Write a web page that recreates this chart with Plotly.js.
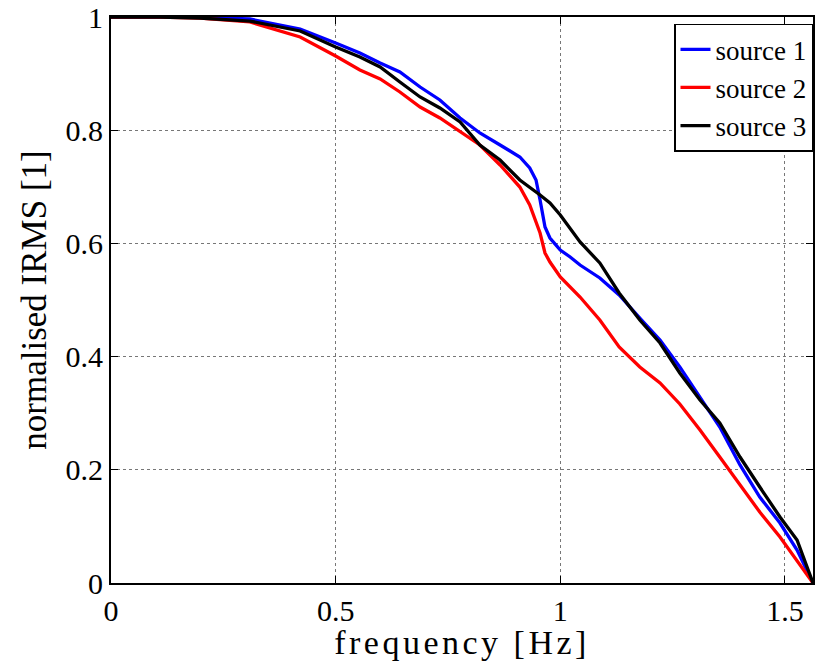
<!DOCTYPE html>
<html>
<head>
<meta charset="utf-8">
<script src="https://cdn.plot.ly/plotly-3.0.1.min.js"></script>
<style>
html,body{margin:0;padding:0;background:#fff;}
#chart{width:822px;height:661px;}
#chart .xtitle{letter-spacing:3.5px;}
</style>
</head>
<body>
<div id="chart"></div>
<script>
// frequency grid [Hz]
const freq = [0, 0.109, 0.198, 0.309, 0.421, 0.5, 0.554, 0.599, 0.643, 0.688, 0.732, 0.777, 0.821, 0.866, 0.910, 0.932, 0.946, 0.955, 0.966, 0.977, 1.0, 1.022, 1.044, 1.088, 1.131, 1.177, 1.222, 1.266, 1.311, 1.355, 1.400, 1.444, 1.489, 1.527, 1.5625];

const source1 = [1.0, 1.0, 1.0, 0.9965, 0.9788, 0.9541, 0.9364, 0.9187, 0.9028, 0.8763, 0.8534, 0.8216, 0.7951, 0.7739, 0.7527, 0.7332, 0.7120, 0.6767, 0.6290, 0.6095, 0.5883, 0.5760, 0.5618, 0.5389, 0.5088, 0.4682, 0.4293, 0.3816, 0.3286, 0.2756, 0.2085, 0.1519, 0.1060, 0.0583, 0.0];

const source2 = [1.0, 1.0, 0.9982, 0.9912, 0.9647, 0.9311, 0.9064, 0.8905, 0.8675, 0.8410, 0.8216, 0.7968, 0.7739, 0.7385, 0.6996, 0.6678, 0.6378, 0.6184, 0.5830, 0.5671, 0.5406, 0.5230, 0.5053, 0.4647, 0.4170, 0.3816, 0.3534, 0.3163, 0.2703, 0.2226, 0.1731, 0.1254, 0.0813, 0.0389, 0.0];

const source3 = [1.0, 1.0, 0.9982, 0.9929, 0.9753, 0.9470, 0.9293, 0.9117, 0.8852, 0.8587, 0.8392, 0.8145, 0.7739, 0.7473, 0.7120, 0.6979, 0.6908, 0.6855, 0.6784, 0.6714, 0.6502, 0.6272, 0.6025, 0.5654, 0.5124, 0.4647, 0.4240, 0.3710, 0.3233, 0.2827, 0.2226, 0.1696, 0.1166, 0.0760, 0.0];

const seriesNames = ['source 1', 'source 2', 'source 3'];
const seriesColors = ['#0000ff', '#ff0000', '#000000'];
const xTickVals = [0, 0.5, 1, 1.5];
const xTickText = ['0', '0.5', '1', '1.5'];
const yTickVals = [0, 0.2, 0.4, 0.6, 0.8, 1];
const yTickText = ['0', '0.2', '0.4', '0.6', '0.8', '1'];

const allY = [source1, source2, source3];
const traces = allY.map((ys, i) => ({
  type: 'scatter', mode: 'lines', x: freq, y: ys, name: seriesNames[i],
  line: {color: seriesColors[i], width: 3.3}
}));

const serif = 'Liberation Serif';
const layout = {
  width: 822, height: 661,
  margin: {l: 111, r: 9, t: 17, b: 78},
  paper_bgcolor: '#fff', plot_bgcolor: '#fff',
  font: {family: serif, color: '#000', size: 28},
  showlegend: true,
  legend: {
    x: 1, xanchor: 'right', y: 0.988, yanchor: 'top',
    bgcolor: '#fff', bordercolor: '#000', borderwidth: 1.5,
    font: {family: serif, size: 27, color: '#000'},
    tracegroupgap: 0
  },
  xaxis: {
    range: [0, 1.5625], tickvals: xTickVals, ticktext: xTickText,
    ticks: 'inside', ticklen: 7, tickwidth: 1, tickcolor: '#000',
    showline: true, linecolor: '#000', linewidth: 2, mirror: 'ticks',
    showgrid: true, gridcolor: '#777', griddash: 'dot', gridwidth: 1,
    zeroline: false, automargin: false, ticklabeloverflow: 'allow',
    tickfont: {family: serif, size: 30, color: '#000'},
    title: {text: 'frequency [Hz]', font: {family: serif, size: 34, color: '#000'}, standoff: 0}
  },
  yaxis: {
    range: [0, 1], tickvals: yTickVals, ticktext: yTickText,
    ticks: 'inside', ticklen: 7, tickwidth: 1, tickcolor: '#000',
    showline: true, linecolor: '#000', linewidth: 2, mirror: 'ticks',
    showgrid: true, gridcolor: '#777', griddash: 'dot', gridwidth: 1,
    zeroline: false, automargin: false, ticklabeloverflow: 'allow',
    tickfont: {family: serif, size: 30, color: '#000'},
    title: {text: 'normalised IRMS [1]', font: {family: serif, size: 35, color: '#000'}, standoff: 8}
  }
};

Plotly.newPlot('chart', traces, layout, {displayModeBar: false, staticPlot: true});
</script>
</body>
</html>
